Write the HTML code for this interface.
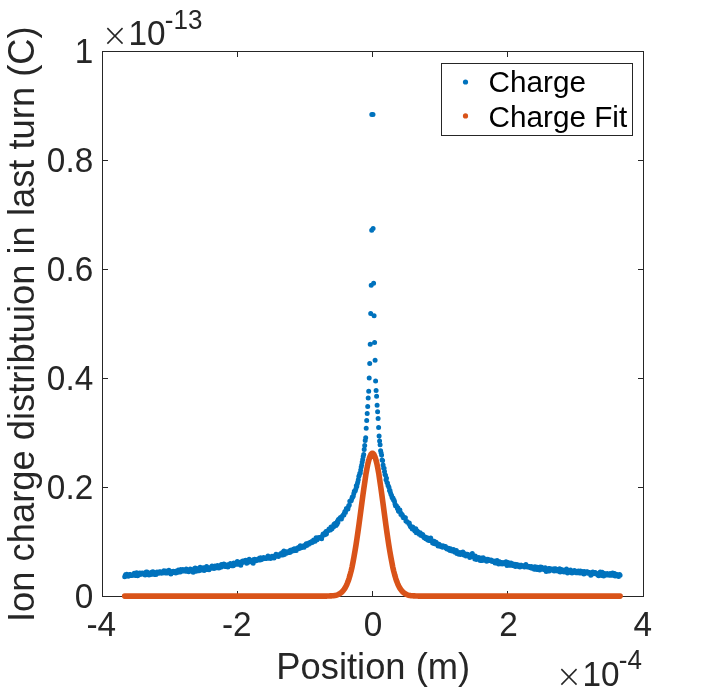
<!DOCTYPE html>
<html lang="en"><head><meta charset="utf-8"><title>Ion charge distribution</title>
<style>html,body{margin:0;padding:0;background:#fff}body{width:710px;height:693px;overflow:hidden}</style></head>
<body>
<svg width="710" height="693" viewBox="0 0 710 693" style="display:block;font-family:'Liberation Sans',Arial,Helvetica,sans-serif">
<rect width="710" height="693" fill="#fff"/>
<path d="M102 51h542v546h-542zM103 52v544h540v-544zM102 591h1v6h-1zM102 51h1v6h-1zM237 591h1v6h-1zM237 51h1v6h-1zM372 591h1v6h-1zM372 51h1v6h-1zM507 591h1v6h-1zM507 51h1v6h-1zM643 591h1v6h-1zM643 51h1v6h-1zM102 51h6v1h-6zM638 51h6v1h-6zM102 160h6v1h-6zM638 160h6v1h-6zM102 269h6v1h-6zM638 269h6v1h-6zM102 378h6v1h-6zM638 378h6v1h-6zM102 487h6v1h-6zM638 487h6v1h-6zM102 596h6v1h-6zM638 596h6v1h-6z" fill="#262626" shape-rendering="crispEdges"/>
<path d="M371.8 114.6h0M371.7 230.2h0M371.2 285.3h0M370.7 313.4h0M370.2 344.2h0M369.7 363.6h0M369.2 378h0M368.7 391.3h0M368.2 397.9h0M367.7 406.6h0M367.2 413.5h0M366.7 420.4h0M366.2 428.2h0M365.7 437.7h0M365.2 440.4h0M364.7 445.5h0M364.2 449.5h0M363.7 454.6h0M363.2 456.4h0M362.7 459.4h0M362.2 462h0M361.7 465.1h0M361.2 467.1h0M360.7 469.9h0M360.3 472.9h0M359.8 473.2h0M359.3 475.2h0M358.8 476.5h0M358.3 479.8h0M357.8 482h0M357.3 483.8h0M356.8 486.4h0M356.3 485.8h0M355.8 489.1h0M355.3 490.7h0M354.8 491.3h0M354.3 491.2h0M353.8 493.6h0M353.3 496h0M352.8 496.9h0M352.3 497h0M351.8 498.8h0M351.3 500.5h0M350.8 501.1h0M350.3 501.3h0M349.8 501.3h0M349.3 505.1h0M348.8 505.6h0M348.4 506.7h0M347.9 509h0M347.4 508.6h0M346.9 509.6h0M346.4 508.6h0M345.9 510.5h0M345.4 512.6h0M344.9 511.4h0M344.4 513.1h0M343.9 515h0M343.4 514.8h0M342.9 515.5h0M342.4 516.5h0M341.9 516.4h0M341.4 519h0M340.9 518h0M340.4 517.5h0M339.9 518.3h0M339.4 518.7h0M338.9 519.3h0M338.4 519.6h0M337.9 522.4h0M337.4 521.3h0M337 524.2h0M336.5 523.7h0M336 525.4h0M335.5 523.3h0M335 523.6h0M334.5 525.4h0M334 524.2h0M333.5 526.9h0M333 526.6h0M332.5 527.1h0M332 528.7h0M331.5 527.8h0M331 527h0M330.5 530h0M330 528.8h0M329.5 530.1h0M329 528.9h0M328.5 530.4h0M328 530.7h0M327.5 531.1h0M327 531.8h0M326.5 533.7h0M326 531.6h0M325.5 534.4h0M325.1 533.4h0M324.6 533.4h0M324.1 535.1h0M323.6 534.6h0M323.1 534.1h0M322.6 535.4h0M322.1 536.5h0M321.6 538.7h0M321.1 537.3h0M320.6 537.3h0M320.1 537.6h0M319.6 538.3h0M319.1 537.4h0M318.6 538.6h0M318.1 538.5h0M317.6 538.1h0M317.1 539.8h0M316.6 539.6h0M316.1 537.7h0M315.6 539.1h0M315.1 541.3h0M314.6 540.5h0M314.1 540.3h0M313.6 540h0M313.2 541.2h0M312.7 542.1h0M312.2 542.5h0M311.7 541.6h0M311.2 542.1h0M310.7 543.1h0M310.2 543.1h0M309.7 543.5h0M309.2 542.8h0M308.7 544.3h0M308.2 543.5h0M307.7 543.4h0M307.2 544h0M306.7 545.4h0M306.2 543.7h0M305.7 545.7h0M305.2 545h0M304.7 546.2h0M304.2 547.3h0M303.7 545.8h0M303.2 546h0M302.7 546.5h0M302.2 546.4h0M301.7 547.4h0M301.3 547.7h0M300.8 547.4h0M300.3 545.8h0M299.8 547h0M299.3 548.4h0M298.8 547.6h0M298.3 548.7h0M297.8 548.9h0M297.3 548h0M296.8 549.4h0M296.3 550.6h0M295.8 550.1h0M295.3 549.4h0M294.8 549.6h0M294.3 548.8h0M293.8 550.7h0M293.3 549.6h0M292.8 550h0M292.3 550.7h0M291.8 550h0M291.3 550.5h0M290.8 551.8h0M290.3 550.3h0M289.8 552.5h0M289.4 551.6h0M288.9 551.8h0M288.4 551.6h0M287.9 552.7h0M287.4 552.3h0M286.9 552.6h0M286.4 551.7h0M285.9 553.4h0M285.4 552.8h0M284.9 553.3h0M284.4 554.4h0M283.9 551h0M283.4 553.6h0M282.9 555h0M282.4 552.6h0M281.9 554.9h0M281.4 553.8h0M280.9 553.5h0M280.4 555h0M279.9 554.9h0M279.4 555.2h0M278.9 555h0M278.4 556.4h0M278 556.2h0M277.5 555.4h0M277 554.5h0M276.5 555h0M276 554.2h0M275.5 555.2h0M275 556.4h0M274.5 556.2h0M274 558h0M273.5 557.2h0M273 557.4h0M272.5 556.4h0M272 556.2h0M271.5 557.3h0M271 557.5h0M270.5 558.5h0M270 557.3h0M269.5 557.1h0M269 557.1h0M268.5 558.3h0M268 556h0M267.5 556.8h0M267 558h0M266.5 558.5h0M266.1 558.5h0M265.6 558.2h0M265.1 558.4h0M264.6 558.1h0M264.1 558h0M263.6 557.6h0M263.1 557.9h0M262.6 559.1h0M262.1 558.8h0M261.6 559.5h0M261.1 559.8h0M260.6 557.8h0M260.1 559.9h0M259.6 557.9h0M259.1 560.1h0M258.6 559.6h0M258.1 559h0M257.6 560h0M257.1 559.8h0M256.6 560.5h0M256.1 560.8h0M255.6 560.6h0M255.1 561.1h0M254.6 559.3h0M254.2 560.9h0M253.7 559.4h0M253.2 563.3h0M252.7 561.1h0M252.2 560.7h0M251.7 561.5h0M251.2 560.4h0M250.7 560.9h0M250.2 561.8h0M249.7 561.3h0M249.2 559.3h0M248.7 561.6h0M248.2 561.7h0M247.7 562.4h0M247.2 562h0M246.7 563.3h0M246.2 562.5h0M245.7 560.2h0M245.2 561.5h0M244.7 562h0M244.2 561.7h0M243.7 561.1h0M243.2 562.3h0M242.7 561.1h0M242.3 562.1h0M241.8 562.9h0M241.3 561.7h0M240.8 565.3h0M240.3 563.8h0M239.8 563.2h0M239.3 564.3h0M238.8 563.7h0M238.3 564.2h0M237.8 564.3h0M237.3 561.5h0M236.8 563.4h0M236.3 564h0M235.8 562.9h0M235.3 564.4h0M234.8 563.5h0M234.3 564h0M233.8 563h0M233.3 565.7h0M232.8 563.9h0M232.3 564.5h0M231.8 565.7h0M231.3 563.8h0M230.8 565.6h0M230.4 563.5h0M229.9 564.6h0M229.4 564.5h0M228.9 565.1h0M228.4 564.4h0M227.9 566.9h0M227.4 565.3h0M226.9 566h0M226.4 565.3h0M225.9 565.6h0M225.4 565.1h0M224.9 566.5h0M224.4 564.2h0M223.9 563.9h0M223.4 566.1h0M222.9 566h0M222.4 565.8h0M221.9 565h0M221.4 564.6h0M220.9 567.3h0M220.4 566.9h0M219.9 567.3h0M219.4 567.5h0M218.9 568h0M218.5 566.3h0M218 567.7h0M217.5 565.4h0M217 566h0M216.5 567.8h0M216 567.8h0M215.5 567.5h0M215 565.9h0M214.5 567.9h0M214 568.5h0M213.5 567.3h0M213 567h0M212.5 568h0M212 566h0M211.5 567.3h0M211 567.2h0M210.5 568.4h0M210 567.7h0M209.5 567.9h0M209 569.8h0M208.5 567.6h0M208 569.5h0M207.5 568h0M207.1 569.4h0M206.6 566.4h0M206.1 567.9h0M205.6 567.5h0M205.1 567.5h0M204.6 569.5h0M204.1 570.4h0M203.6 568.8h0M203.1 567.8h0M202.6 568.5h0M202.1 568h0M201.6 567.9h0M201.1 570.1h0M200.6 568.6h0M200.1 567.2h0M199.6 569.4h0M199.1 570.8h0M198.6 569.2h0M198.1 569.5h0M197.6 568.8h0M197.1 570h0M196.6 569.2h0M196.1 571.2h0M195.6 568.6h0M195.2 568h0M194.7 568.3h0M194.2 570.8h0M193.7 569.3h0M193.2 572.2h0M192.7 569.4h0M192.2 569.8h0M191.7 570.7h0M191.2 569.5h0M190.7 569.8h0M190.2 569.1h0M189.7 569.9h0M189.2 569.8h0M188.7 571.8h0M188.2 571.2h0M187.7 570.6h0M187.2 570h0M186.7 570.3h0M186.2 569h0M185.7 571.2h0M185.2 570.7h0M184.7 570.3h0M184.2 570.7h0M183.7 570.2h0M183.3 571.1h0M182.8 569.4h0M182.3 571h0M181.8 569.8h0M181.3 570.9h0M180.8 569.6h0M180.3 572.1h0M179.8 570.5h0M179.3 571.4h0M178.8 570.9h0M178.3 570.1h0M177.8 572.2h0M177.3 572.4h0M176.8 572.1h0M176.3 571.1h0M175.8 573h0M175.3 571.3h0M174.8 572.6h0M174.3 572.5h0M173.8 571.8h0M173.3 571.2h0M172.8 572.2h0M172.3 572.1h0M171.8 571.7h0M171.4 572h0M170.9 574.1h0M170.4 572.2h0M169.9 571.8h0M169.4 571h0M168.9 570.2h0M168.4 571.4h0M167.9 572h0M167.4 572.9h0M166.9 572.1h0M166.4 571.5h0M165.9 571.1h0M165.4 573h0M164.9 572.1h0M164.4 571.6h0M163.9 570.8h0M163.4 572.2h0M162.9 572.9h0M162.4 573.1h0M161.9 572.9h0M161.4 573.2h0M160.9 571.9h0M160.4 571.7h0M159.9 572.1h0M159.5 571.7h0M159 573.2h0M158.5 572.5h0M158 573.2h0M157.5 572.9h0M157 571.9h0M156.5 573h0M156 574.6h0M155.5 573.3h0M155 573.7h0M154.5 574.5h0M154 573.9h0M153.5 572.4h0M153 571.8h0M152.5 573.7h0M152 572.5h0M151.5 572.3h0M151 574.4h0M150.5 573.5h0M150 573.5h0M149.5 573.4h0M149 574.9h0M148.5 573.9h0M148.1 572.7h0M147.6 572.6h0M147.1 572.1h0M146.6 574h0M146.1 572.1h0M145.6 573.2h0M145.1 575h0M144.6 573.2h0M144.1 574.2h0M143.6 573.5h0M143.1 574.1h0M142.6 573h0M142.1 573.8h0M141.6 574.3h0M141.1 573.3h0M140.6 573.9h0M140.1 574.6h0M139.6 573.1h0M139.1 574.6h0M138.6 574.9h0M138.1 574.8h0M137.6 575.7h0M137.1 574.9h0M136.6 572.8h0M136.2 575.3h0M135.7 574.5h0M135.2 575.5h0M134.7 575.1h0M134.2 573.3h0M133.7 573.9h0M133.2 575.2h0M132.7 574.7h0M132.2 575.5h0M131.7 575.5h0M131.2 575.6h0M130.7 575.6h0M130.2 574.6h0M129.7 574.4h0M129.2 574.5h0M128.7 575.1h0M128.2 576.2h0M127.7 575.1h0M127.2 575.9h0M126.7 574.3h0M126.2 574.6h0M125.7 574.5h0M125.2 575.5h0M124.7 576.8h0M373 114.6h0M373.1 228.6h0M373.6 283.3h0M374.1 315.8h0M374.6 342.5h0M375.1 360.2h0M375.6 381h0M376.1 390.6h0M376.6 396.2h0M377.1 405.2h0M377.6 411.8h0M378.1 418.4h0M378.6 427.6h0M379.1 436h0M379.6 441.1h0M380.1 444.8h0M380.6 450.8h0M381.1 452.8h0M381.6 455.1h0M382.1 460.1h0M382.6 460.4h0M383.1 464.9h0M383.6 468h0M384.1 468.3h0M384.5 471.5h0M385 474.5h0M385.5 475.2h0M386 479.7h0M386.5 478.3h0M387 482.4h0M387.5 483.1h0M388 485.4h0M388.5 486.2h0M389 487.4h0M389.5 490.4h0M390 490.4h0M390.5 492.7h0M391 494.4h0M391.5 495.3h0M392 497.2h0M392.5 498.2h0M393 497.9h0M393.5 500h0M394 499.9h0M394.5 501.6h0M395 503.9h0M395.5 505.7h0M396 505.6h0M396.4 505.7h0M396.9 506.9h0M397.4 508.5h0M397.9 507.8h0M398.4 511.1h0M398.9 511.5h0M399.4 511.1h0M399.9 510.1h0M400.4 512.4h0M400.9 514.4h0M401.4 513.7h0M401.9 514.4h0M402.4 514.9h0M402.9 516.8h0M403.4 517.8h0M403.9 517.6h0M404.4 518h0M404.9 517.6h0M405.4 517.8h0M405.9 520.9h0M406.4 521.3h0M406.9 521.5h0M407.4 522.3h0M407.8 522.2h0M408.3 522.7h0M408.8 523.5h0M409.3 523.1h0M409.8 524.9h0M410.3 526.2h0M410.8 527.1h0M411.3 527.2h0M411.8 527.7h0M412.3 528.9h0M412.8 527.1h0M413.3 528h0M413.8 529h0M414.3 529.9h0M414.8 530.9h0M415.3 530.8h0M415.8 528.8h0M416.3 532.8h0M416.8 531.1h0M417.3 531h0M417.8 531.9h0M418.3 532.7h0M418.8 532.2h0M419.3 534.2h0M419.7 533.1h0M420.2 532.7h0M420.7 535.3h0M421.2 535.4h0M421.7 535h0M422.2 534.6h0M422.7 534.6h0M423.2 535.5h0M423.7 537h0M424.2 537.8h0M424.7 536.9h0M425.2 537.1h0M425.7 538.7h0M426.2 538h0M426.7 538.1h0M427.2 537.8h0M427.7 539.9h0M428.2 538.8h0M428.7 540.6h0M429.2 540.3h0M429.7 540.3h0M430.2 539.2h0M430.7 537.9h0M431.2 540.8h0M431.6 540.9h0M432.1 540.7h0M432.6 543h0M433.1 541.5h0M433.6 543.5h0M434.1 541.2h0M434.6 541.6h0M435.1 542.7h0M435.6 544.1h0M436.1 542.2h0M436.6 543.7h0M437.1 544.1h0M437.6 543.9h0M438.1 546.1h0M438.6 544.5h0M439.1 544.2h0M439.6 545h0M440.1 545.4h0M440.6 546.6h0M441.1 545.4h0M441.6 546.1h0M442.1 546.4h0M442.6 547.2h0M443.1 546.1h0M443.5 546h0M444 547h0M444.5 546.7h0M445 546.6h0M445.5 546.5h0M446 547.9h0M446.5 548.5h0M447 548.9h0M447.5 548.7h0M448 548.4h0M448.5 548.3h0M449 549.7h0M449.5 549.3h0M450 550.5h0M450.5 548.7h0M451 550.4h0M451.5 549.9h0M452 551h0M452.5 550.8h0M453 551.3h0M453.5 549.4h0M454 550.8h0M454.5 551.4h0M455 552.3h0M455.4 552.1h0M455.9 551.3h0M456.4 550.5h0M456.9 553.4h0M457.4 553.1h0M457.9 552.6h0M458.4 553.1h0M458.9 554.2h0M459.4 552.9h0M459.9 552.4h0M460.4 554.6h0M460.9 553.2h0M461.4 552.7h0M461.9 552.8h0M462.4 554.2h0M462.9 552h0M463.4 553.6h0M463.9 555h0M464.4 553.6h0M464.9 555.5h0M465.4 553.9h0M465.9 556h0M466.4 554.3h0M466.8 555.6h0M467.3 554.3h0M467.8 554.8h0M468.3 555.2h0M468.8 555.6h0M469.3 554.9h0M469.8 557.5h0M470.3 555.7h0M470.8 555.9h0M471.3 555.9h0M471.8 555.8h0M472.3 553.4h0M472.8 556.6h0M473.3 556.2h0M473.8 556.8h0M474.3 555.7h0M474.8 559h0M475.3 555.9h0M475.8 558.1h0M476.3 559.6h0M476.8 558.7h0M477.3 558h0M477.8 557.8h0M478.3 558.1h0M478.7 557.5h0M479.2 558.3h0M479.7 558.5h0M480.2 560.4h0M480.7 558.2h0M481.2 557.9h0M481.7 559.2h0M482.2 560.6h0M482.7 560.3h0M483.2 557.7h0M483.7 559.8h0M484.2 560h0M484.7 560.2h0M485.2 559h0M485.7 560.3h0M486.2 560.6h0M486.7 561.3h0M487.2 560.2h0M487.7 559.3h0M488.2 560.4h0M488.7 559.6h0M489.2 560.3h0M489.7 560.4h0M490.2 560.5h0M490.6 560.7h0M491.1 560h0M491.6 560.5h0M492.1 561.6h0M492.6 561.1h0M493.1 561.3h0M493.6 560.9h0M494.1 561.3h0M494.6 561.2h0M495.1 562.9h0M495.6 561.4h0M496.1 560.7h0M496.6 563.1h0M497.1 560.6h0M497.6 561.9h0M498.1 562.4h0M498.6 563.9h0M499.1 561.4h0M499.6 563.3h0M500.1 563h0M500.6 562.2h0M501.1 563.6h0M501.6 563.7h0M502.1 563.9h0M502.5 563.1h0M503 562.6h0M503.5 562.8h0M504 562.9h0M504.5 563.6h0M505 563.3h0M505.5 564.1h0M506 561.8h0M506.5 563.5h0M507 565.5h0M507.5 564.8h0M508 562.5h0M508.5 565.2h0M509 564.5h0M509.5 563.8h0M510 565.2h0M510.5 563.4h0M511 562.9h0M511.5 565.2h0M512 563.6h0M512.5 565.4h0M513 565.6h0M513.5 564.6h0M514 564.6h0M514.4 565.4h0M514.9 564.3h0M515.4 566.4h0M515.9 565.9h0M516.4 566.2h0M516.9 564.6h0M517.4 564.7h0M517.9 564.9h0M518.4 566.6h0M518.9 565.5h0M519.4 565.3h0M519.9 567.1h0M520.4 566.5h0M520.9 565.3h0M521.4 565.3h0M521.9 565.8h0M522.4 565.6h0M522.9 565.9h0M523.4 566.1h0M523.9 566.4h0M524.4 567.1h0M524.9 566.6h0M525.4 566.8h0M525.9 564.5h0M526.3 566.4h0M526.8 566.7h0M527.3 567h0M527.8 566.9h0M528.3 567.1h0M528.8 566.5h0M529.3 567h0M529.8 566.4h0M530.3 567.7h0M530.8 566.9h0M531.3 566.5h0M531.8 568.3h0M532.3 567.3h0M532.8 567.2h0M533.3 567.8h0M533.8 568h0M534.3 569.3h0M534.8 566.7h0M535.3 568.6h0M535.8 568.9h0M536.3 567.3h0M536.8 569.5h0M537.3 567.2h0M537.7 567.7h0M538.2 567.6h0M538.7 568.3h0M539.2 569.3h0M539.7 570h0M540.2 567.1h0M540.7 568.8h0M541.2 568.9h0M541.7 567.2h0M542.2 569.1h0M542.7 568.9h0M543.2 568.9h0M543.7 568.9h0M544.2 569.7h0M544.7 569.4h0M545.2 567.8h0M545.7 568.3h0M546.2 571.6h0M546.7 570.8h0M547.2 568.9h0M547.7 569.3h0M548.2 569.6h0M548.7 568.4h0M549.2 570.9h0M549.6 568.4h0M550.1 569.4h0M550.6 569h0M551.1 569.4h0M551.6 568.9h0M552.1 569.9h0M552.6 570.2h0M553.1 569.1h0M553.6 569.7h0M554.1 571h0M554.6 568.8h0M555.1 568.9h0M555.6 568.8h0M556.1 570h0M556.6 569.8h0M557.1 570.5h0M557.6 571.1h0M558.1 570.2h0M558.6 570.2h0M559.1 571h0M559.6 568.8h0M560.1 571.9h0M560.6 571.3h0M561.1 571.2h0M561.5 569.5h0M562 570.9h0M562.5 571h0M563 571.6h0M563.5 571.5h0M564 572h0M564.5 570h0M565 570.4h0M565.5 570.2h0M566 571.6h0M566.5 568.9h0M567 572h0M567.5 573h0M568 571.5h0M568.5 571.2h0M569 570.7h0M569.5 572.3h0M570 570.9h0M570.5 570h0M571 572.3h0M571.5 572.2h0M572 573.1h0M572.5 571.4h0M573 570.9h0M573.4 571.1h0M573.9 571.1h0M574.4 570.6h0M574.9 571.8h0M575.4 571.1h0M575.9 572.8h0M576.4 572.7h0M576.9 571.8h0M577.4 572.8h0M577.9 571.6h0M578.4 571h0M578.9 571.9h0M579.4 572.9h0M579.9 572.9h0M580.4 571.1h0M580.9 573.1h0M581.4 572.3h0M581.9 572.7h0M582.4 572.5h0M582.9 571.6h0M583.4 573.1h0M583.9 573.9h0M584.4 571.4h0M584.9 572.5h0M585.3 572.1h0M585.8 572.8h0M586.3 572.1h0M586.8 571.8h0M587.3 571.7h0M587.8 573.2h0M588.3 573.3h0M588.8 572.7h0M589.3 572.9h0M589.8 572.6h0M590.3 573.8h0M590.8 575.2h0M591.3 572.8h0M591.8 572.6h0M592.3 572.7h0M592.8 571.9h0M593.3 572.6h0M593.8 573.7h0M594.3 572.6h0M594.8 573.6h0M595.3 572.4h0M595.8 573.3h0M596.3 573.2h0M596.7 573.4h0M597.2 573.6h0M597.7 575h0M598.2 573.7h0M598.7 575.8h0M599.2 573.4h0M599.7 573h0M600.2 572.1h0M600.7 573.6h0M601.2 574.6h0M601.7 575.4h0M602.2 572.3h0M602.7 575.3h0M603.2 573.3h0M603.7 576.1h0M604.2 574.2h0M604.7 573.6h0M605.2 574h0M605.7 574.3h0M606.2 575h0M606.7 575.1h0M607.2 573.5h0M607.7 574h0M608.2 574.6h0M608.6 574.3h0M609.1 575.3h0M609.6 573.7h0M610.1 573.5h0M610.6 575.3h0M611.1 574.6h0M611.6 573.8h0M612.1 575.3h0M612.6 573h0M613.1 573.5h0M613.6 575.1h0M614.1 574h0M614.6 573.4h0M615.1 576h0M615.6 574.4h0M616.1 575.1h0M616.6 575.2h0M617.1 574.4h0M617.6 575.5h0M618.1 576.3h0M618.6 576.4h0M619.1 575.2h0M619.6 574.6h0M620.1 575.2h0" fill="none" stroke="#0072BD" stroke-width="5" stroke-linecap="round"/>
<path d="M124.7 596.1L125.7 596.1L126.7 596.1L127.7 596.1L128.7 596.1L129.7 596.1L130.7 596.1L131.7 596.1L132.7 596.1L133.7 596.1L134.7 596.1L135.7 596.1L136.7 596.1L137.7 596.1L138.6 596.1L139.6 596.1L140.6 596.1L141.6 596.1L142.6 596.1L143.6 596.1L144.6 596.1L145.6 596.1L146.6 596.1L147.6 596.1L148.6 596.1L149.6 596.1L150.6 596.1L151.5 596.1L152.5 596.1L153.5 596.1L154.5 596.1L155.5 596.1L156.5 596.1L157.5 596.1L158.5 596.1L159.5 596.1L160.5 596.1L161.5 596.1L162.5 596.1L163.5 596.1L164.5 596.1L165.4 596.1L166.4 596.1L167.4 596.1L168.4 596.1L169.4 596.1L170.4 596.1L171.4 596.1L172.4 596.1L173.4 596.1L174.4 596.1L175.4 596.1L176.4 596.1L177.4 596.1L178.3 596.1L179.3 596.1L180.3 596.1L181.3 596.1L182.3 596.1L183.3 596.1L184.3 596.1L185.3 596.1L186.3 596.1L187.3 596.1L188.3 596.1L189.3 596.1L190.3 596.1L191.3 596.1L192.2 596.1L193.2 596.1L194.2 596.1L195.2 596.1L196.2 596.1L197.2 596.1L198.2 596.1L199.2 596.1L200.2 596.1L201.2 596.1L202.2 596.1L203.2 596.1L204.2 596.1L205.1 596.1L206.1 596.1L207.1 596.1L208.1 596.1L209.1 596.1L210.1 596.1L211.1 596.1L212.1 596.1L213.1 596.1L214.1 596.1L215.1 596.1L216.1 596.1L217.1 596.1L218.1 596.1L219 596.1L220 596.1L221 596.1L222 596.1L223 596.1L224 596.1L225 596.1L226 596.1L227 596.1L228 596.1L229 596.1L230 596.1L231 596.1L231.9 596.1L232.9 596.1L233.9 596.1L234.9 596.1L235.9 596.1L236.9 596.1L237.9 596.1L238.9 596.1L239.9 596.1L240.9 596.1L241.9 596.1L242.9 596.1L243.9 596.1L244.9 596.1L245.8 596.1L246.8 596.1L247.8 596.1L248.8 596.1L249.8 596.1L250.8 596.1L251.8 596.1L252.8 596.1L253.8 596.1L254.8 596.1L255.8 596.1L256.8 596.1L257.8 596.1L258.7 596.1L259.7 596.1L260.7 596.1L261.7 596.1L262.7 596.1L263.7 596.1L264.7 596.1L265.7 596.1L266.7 596.1L267.7 596.1L268.7 596.1L269.7 596.1L270.7 596.1L271.7 596.1L272.6 596.1L273.6 596.1L274.6 596.1L275.6 596.1L276.6 596.1L277.6 596.1L278.6 596.1L279.6 596.1L280.6 596.1L281.6 596.1L282.6 596.1L283.6 596.1L284.6 596.1L285.5 596.1L286.5 596.1L287.5 596.1L288.5 596.1L289.5 596.1L290.5 596.1L291.5 596.1L292.5 596.1L293.5 596.1L294.5 596.1L295.5 596.1L296.5 596.1L297.5 596.1L298.5 596.1L299.4 596.1L300.4 596.1L301.4 596.1L302.4 596.1L303.4 596.1L304.4 596.1L305.4 596.1L306.4 596.1L307.4 596.1L308.4 596.1L309.4 596.1L310.4 596.1L311.4 596.1L312.3 596.1L313.3 596.1L314.3 596.1L315.3 596.1L316.3 596.1L317.3 596.1L318.3 596.1L319.3 596.1L320.3 596.1L321.3 596.1L322.3 596.1L323.3 596.1L324.3 596.1L325.3 596.1L326.2 596.1L327.2 596L328.2 596L329.2 596L330.2 595.9L331.2 595.9L332.2 595.8L333.2 595.7L334.2 595.6L335.2 595.4L336.2 595.2L337.2 594.9L338.2 594.5L339.1 594L340.1 593.4L341.1 592.7L342.1 591.8L343.1 590.7L344.1 589.4L345.1 587.9L346.1 586L347.1 583.8L348.1 581.3L349.1 578.3L350.1 574.9L351.1 571.1L352.1 566.8L353 562.1L354 556.8L355 551.1L356 545L357 538.4L358 531.5L359 524.3L360 516.9L361 509.4L362 501.9L363 494.5L364 487.4L365 480.6L365.9 474.3L366.9 468.7L367.9 463.8L368.9 459.8L369.9 456.6L370.9 454.5L371.9 453.4L372.9 453.4L373.9 454.5L374.9 456.6L375.9 459.8L376.9 463.8L377.9 468.7L378.9 474.3L379.8 480.6L380.8 487.4L381.8 494.5L382.8 501.9L383.8 509.4L384.8 516.9L385.8 524.3L386.8 531.5L387.8 538.4L388.8 545L389.8 551.1L390.8 556.8L391.8 562.1L392.7 566.8L393.7 571.1L394.7 574.9L395.7 578.3L396.7 581.3L397.7 583.8L398.7 586L399.7 587.9L400.7 589.4L401.7 590.7L402.7 591.8L403.7 592.7L404.7 593.4L405.7 594L406.6 594.5L407.6 594.9L408.6 595.2L409.6 595.4L410.6 595.6L411.6 595.7L412.6 595.8L413.6 595.9L414.6 595.9L415.6 596L416.6 596L417.6 596L418.6 596.1L419.5 596.1L420.5 596.1L421.5 596.1L422.5 596.1L423.5 596.1L424.5 596.1L425.5 596.1L426.5 596.1L427.5 596.1L428.5 596.1L429.5 596.1L430.5 596.1L431.5 596.1L432.5 596.1L433.4 596.1L434.4 596.1L435.4 596.1L436.4 596.1L437.4 596.1L438.4 596.1L439.4 596.1L440.4 596.1L441.4 596.1L442.4 596.1L443.4 596.1L444.4 596.1L445.4 596.1L446.3 596.1L447.3 596.1L448.3 596.1L449.3 596.1L450.3 596.1L451.3 596.1L452.3 596.1L453.3 596.1L454.3 596.1L455.3 596.1L456.3 596.1L457.3 596.1L458.3 596.1L459.3 596.1L460.2 596.1L461.2 596.1L462.2 596.1L463.2 596.1L464.2 596.1L465.2 596.1L466.2 596.1L467.2 596.1L468.2 596.1L469.2 596.1L470.2 596.1L471.2 596.1L472.2 596.1L473.1 596.1L474.1 596.1L475.1 596.1L476.1 596.1L477.1 596.1L478.1 596.1L479.1 596.1L480.1 596.1L481.1 596.1L482.1 596.1L483.1 596.1L484.1 596.1L485.1 596.1L486.1 596.1L487 596.1L488 596.1L489 596.1L490 596.1L491 596.1L492 596.1L493 596.1L494 596.1L495 596.1L496 596.1L497 596.1L498 596.1L499 596.1L499.9 596.1L500.9 596.1L501.9 596.1L502.9 596.1L503.9 596.1L504.9 596.1L505.9 596.1L506.9 596.1L507.9 596.1L508.9 596.1L509.9 596.1L510.9 596.1L511.9 596.1L512.9 596.1L513.8 596.1L514.8 596.1L515.8 596.1L516.8 596.1L517.8 596.1L518.8 596.1L519.8 596.1L520.8 596.1L521.8 596.1L522.8 596.1L523.8 596.1L524.8 596.1L525.8 596.1L526.7 596.1L527.7 596.1L528.7 596.1L529.7 596.1L530.7 596.1L531.7 596.1L532.7 596.1L533.7 596.1L534.7 596.1L535.7 596.1L536.7 596.1L537.7 596.1L538.7 596.1L539.7 596.1L540.6 596.1L541.6 596.1L542.6 596.1L543.6 596.1L544.6 596.1L545.6 596.1L546.6 596.1L547.6 596.1L548.6 596.1L549.6 596.1L550.6 596.1L551.6 596.1L552.6 596.1L553.5 596.1L554.5 596.1L555.5 596.1L556.5 596.1L557.5 596.1L558.5 596.1L559.5 596.1L560.5 596.1L561.5 596.1L562.5 596.1L563.5 596.1L564.5 596.1L565.5 596.1L566.5 596.1L567.4 596.1L568.4 596.1L569.4 596.1L570.4 596.1L571.4 596.1L572.4 596.1L573.4 596.1L574.4 596.1L575.4 596.1L576.4 596.1L577.4 596.1L578.4 596.1L579.4 596.1L580.3 596.1L581.3 596.1L582.3 596.1L583.3 596.1L584.3 596.1L585.3 596.1L586.3 596.1L587.3 596.1L588.3 596.1L589.3 596.1L590.3 596.1L591.3 596.1L592.3 596.1L593.3 596.1L594.2 596.1L595.2 596.1L596.2 596.1L597.2 596.1L598.2 596.1L599.2 596.1L600.2 596.1L601.2 596.1L602.2 596.1L603.2 596.1L604.2 596.1L605.2 596.1L606.2 596.1L607.1 596.1L608.1 596.1L609.1 596.1L610.1 596.1L611.1 596.1L612.1 596.1L613.1 596.1L614.1 596.1L615.1 596.1L616.1 596.1L617.1 596.1L618.1 596.1L619.1 596.1L620.1 596.1" fill="none" stroke="#D95319" stroke-width="5.6" stroke-linecap="round" stroke-linejoin="round"/>
<g fill="#262626" font-size="33.33">
<text transform="translate(101.3 635.7) scale(1 1.04)" text-anchor="middle">-4</text>
<text transform="translate(236.7 635.7) scale(1 1.04)" text-anchor="middle">-2</text>
<text transform="translate(373.0 635.7) scale(1 1.04)" text-anchor="middle">0</text>
<text transform="translate(508.4 635.7) scale(1 1.04)" text-anchor="middle">2</text>
<text transform="translate(642.8 635.7) scale(1 1.04)" text-anchor="middle">4</text>
<text transform="translate(93.2 63.4) scale(1 1.04)" text-anchor="end">1</text>
<text transform="translate(93.2 172.4) scale(1 1.04)" text-anchor="end">0.8</text>
<text transform="translate(93.2 281.4) scale(1 1.04)" text-anchor="end">0.6</text>
<text transform="translate(93.2 390.4) scale(1 1.04)" text-anchor="end">0.4</text>
<text transform="translate(93.2 499.4) scale(1 1.04)" text-anchor="end">0.2</text>
<text transform="translate(93.2 608.4) scale(1 1.04)" text-anchor="end">0</text>
<text x="101.8" y="45.8" font-family="'DejaVu Sans','Liberation Sans',sans-serif" font-weight="200" font-size="31.5">×</text>
<text transform="translate(128.4 44.8) scale(1 1.04)">10<tspan font-size="26" dx="-0.7" dy="-15.2">-13</tspan></text>
<text x="555.8" y="686.8" font-family="'DejaVu Sans','Liberation Sans',sans-serif" font-weight="200" font-size="31.5">×</text>
<text transform="translate(582.4 686) scale(1 1.04)">10<tspan font-size="26" dx="-0.6" dy="-15.9">-4</tspan></text>
</g>
<g fill="#262626" font-size="36.33">
<text x="373.2" y="678.6" text-anchor="middle">Position (m)</text>
<text transform="translate(34 324.2) rotate(-90)" text-anchor="middle">Ion charge distribtuion in last turn (C)</text>
</g>
<path d="M441 63h192v73h-192zM442 64v71h190v-71z" fill="#262626" shape-rendering="crispEdges"/><rect x="442" y="64" width="190" height="71" fill="#fff"/>
<circle cx="465.5" cy="82" r="2.6" fill="#0072BD"/>
<circle cx="465.5" cy="115.9" r="2.6" fill="#D95319"/>
<g fill="#000" font-size="29.7"><text x="488.6" y="92.4">Charge</text><text x="488.6" y="126.5">Charge Fit</text></g>
</svg>
</body></html>
